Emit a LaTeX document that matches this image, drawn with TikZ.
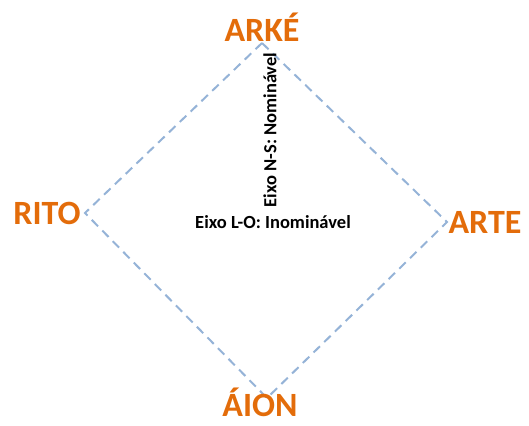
\documentclass[tikz,border=0pt]{standalone}
\usepackage{fontspec}
\setmainfont{Carlito}
\usetikzlibrary{positioning}
\definecolor{polo}{HTML}{E36C0A}
\definecolor{eixo}{HTML}{95B3D7}
\tikzset{every picture/.style={line width=0.75pt}}

\begin{document}
\begin{tikzpicture}[x=1pt, y=-1pt,
    polo/.style={text=polo, font=\fontsize{34}{38}\selectfont\bfseries, inner sep=0pt},
    rotulo/.style={font=\fontsize{18.5}{22}\selectfont\bfseries, inner sep=0pt},
    aresta/.style={eixo, dashed, dash pattern=on 9pt off 6pt, line width=2pt}]
        \useasboundingbox (0,0) rectangle (529,425);
        % vertices of the square
        \coordinate (n) at (262, 43);
        \coordinate (w) at (85, 213);
        \coordinate (e) at (447, 222);
        \coordinate (s) at (267, 398);
        \draw[aresta] (n) -- (w) -- (s) -- (e) -- cycle;
        % poles
        \node[polo] (arke) at (262, 27)  {ARKÉ};
        \node[polo] (rito) at (47, 213)  {RITO};
        \node[polo] (arte) at (485, 222) {ARTE};
        \node[polo] (aion) at (260, 402) {ÁION};
        % axes
        \node[rotulo, rotate=90] (ns) at (270, 130) {Eixo N-S: Nominável};
        \node[rotulo] (lo) at (273, 222) {Eixo L-O: Inominável};
    \end{tikzpicture}
\end{document}
